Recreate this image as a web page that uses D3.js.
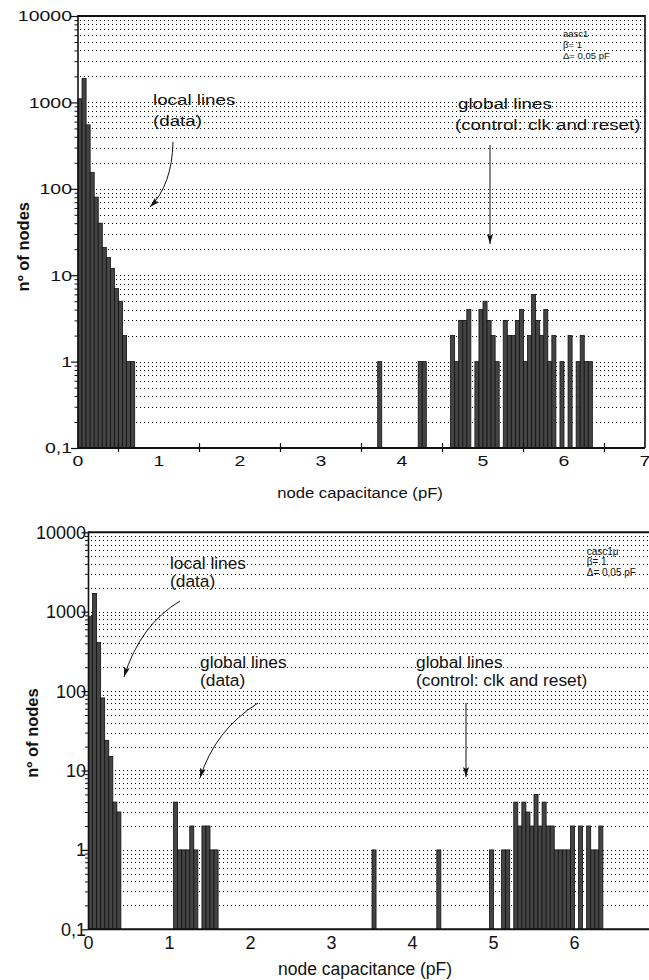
<!DOCTYPE html>
<html>
<head>
<meta charset="utf-8">
<script src="https://cdn.jsdelivr.net/npm/d3@7"></script>
<style>
  html, body { margin: 0; padding: 0; background: #fff; }
  svg { display: block; font-family: "Liberation Sans", Arial, sans-serif; }
  .grid { stroke: #000; stroke-width: 1; stroke-dasharray: 1 3; shape-rendering: crispEdges; }
  .bar { fill: #444; stroke: #111; stroke-width: 0.8; }
  .frame { stroke: #111; fill: none; }
</style>
</head>
<body>
<svg id="chart" width="649" height="980"></svg>
<script>
// histogram of node capacitance, bin width 0.05 pF
// top panel: aasc1
const aascBins = [
  0.00, 0.05, 0.10, 0.15, 0.20, 0.25, 0.30, 0.35, 0.40, 0.45, 0.50, 0.55, 0.60, 0.65,
  3.70, 4.20, 4.25,
  4.60, 4.65, 4.70, 4.75, 4.80, 4.90, 4.95, 5.00, 5.05, 5.10, 5.15,
  5.25, 5.30, 5.35, 5.40, 5.45, 5.50, 5.55, 5.60, 5.65, 5.70, 5.75, 5.80, 5.85,
  5.95, 6.05, 6.15, 6.20, 6.25, 6.30
];
const aascCounts = [
  1100, 1900, 550, 155, 80, 40, 21, 16, 12, 7, 5, 2, 1, 1,
  1, 1, 1,
  2, 1, 3, 3, 4, 1, 4, 5, 3, 2, 1,
  3, 2, 2, 3, 4, 1, 2, 6, 3, 2, 4, 1, 2,
  1, 2, 1, 2, 1, 1
];

// bottom panel: casc1
const cascBins = [
  0.00, 0.05, 0.10, 0.15, 0.20, 0.25, 0.30, 0.35,
  1.05, 1.10, 1.15, 1.20, 1.25, 1.30, 1.40, 1.45, 1.50, 1.55,
  3.50, 4.30, 4.95, 5.10, 5.15,
  5.25, 5.30, 5.35, 5.40, 5.45, 5.50, 5.55, 5.60, 5.65, 5.70, 5.75, 5.80, 5.85, 5.90, 5.95,
  6.05, 6.15, 6.20, 6.25, 6.30
];
const cascCounts = [
  865, 1700, 411, 82, 24, 15, 4, 3,
  4, 1, 1, 1, 2, 1, 2, 2, 1, 1,
  1, 1, 1, 1, 1,
  4, 2, 4, 3, 2, 5, 2, 4, 2, 2, 1, 1, 1, 1, 2,
  2, 2, 1, 1, 2
];

const BIN = 0.05;
const yMajor = [0.1, 1, 10, 100, 1000, 10000];
const xLabels = [0, 1, 2, 3, 4, 5, 6, 7];
const xHalfTicks = [0.5, 1.5, 2.5, 3.5, 4.5, 5.5, 6.5];

const W = 649;
const svg = d3.select('#chart');
const defs = svg.append('defs');
defs.append('marker')
  .attr('id', 'head')
  .attr('viewBox', '0 0 10 6')
  .attr('refX', 10).attr('refY', 3)
  .attr('markerWidth', 10).attr('markerHeight', 6)
  .attr('markerUnits', 'userSpaceOnUse')
  .attr('orient', 'auto')
  .append('path').attr('d', 'M0,0 L10,3 L0,6 L2,3 Z').attr('fill', '#111');

function fmt(v) {
  return v < 1 ? String(v).replace('.', ',') : String(v);
}

// text with horizontal stretch (the scanned figure is wider than tall)
function txt(g, x, y, s, o) {
  const t = g.append('text')
    .attr('transform', `translate(${x},${y}) scale(${o.sx || 1},1)`)
    .attr('text-anchor', o.anchor || 'start')
    .attr('font-size', o.size)
    .attr('fill', '#111')
    .text(s);
  if (o.weight) t.attr('font-weight', o.weight);
  return t;
}

function allLogTicks() {
  const v = [];
  for (let e = -1; e < 4; e++) {
    for (let m = 1; m <= 9; m++) v.push(m * Math.pow(10, e));
  }
  v.push(10000);
  return v.map(d => +d.toPrecision(3));
}

function drawPanel(p) {
  const g = svg.append('g');
  const x = d3.scaleLinear().domain([0, 7]).range(p.xr);
  const y = d3.scaleLog().domain([0.1, 10000]).range(p.yr);
  const right = Math.min(p.xr[1], W);

  // dotted grid at every decade sub-division
  g.selectAll('.grid')
    .data(allLogTicks().filter(d => d > 0.1))
    .join('line')
    .attr('class', 'grid')
    .attr('x1', x(0) + 2).attr('x2', right)
    .attr('y1', d => Math.round(y(d)) + 0.5).attr('y2', d => Math.round(y(d)) + 0.5);

  // bars
  g.selectAll('.bar')
    .data(p.bins.map((b, i) => ({ b, c: p.counts[i] })))
    .join('rect')
    .attr('class', 'bar')
    .attr('x', d => x(d.b))
    .attr('width', d => x(d.b + BIN) - x(d.b))
    .attr('y', d => y(d.c))
    .attr('height', d => y(0.1) - y(d.c));

  // y axis ticks
  const minors = allLogTicks().filter(d => !yMajor.includes(d));
  g.append('g').attr('transform', `translate(${x(0)},0)`)
    .call(d3.axisLeft(y).tickValues(minors).tickSize(3.5).tickFormat(''))
    .call(a => a.select('.domain').remove())
    .selectAll('line').attr('stroke', '#111');
  g.append('g').attr('transform', `translate(${x(0)},0)`)
    .call(d3.axisLeft(y).tickValues(yMajor).tickSize(7).tickFormat(''))
    .call(a => a.select('.domain').remove())
    .selectAll('line').attr('stroke', '#111').attr('stroke-width', 1.2);

  yMajor.forEach(v => {
    txt(g, x(0) - p.yLabDx, y(v) + p.yLabDy, fmt(v), { size: p.tickSize, sx: p.sx, anchor: 'end' });
  });

  // frame
  g.append('line').attr('class', 'frame').attr('stroke-width', 2)
    .attr('x1', x(0)).attr('x2', right).attr('y1', y(10000)).attr('y2', y(10000));
  g.append('line').attr('class', 'frame').attr('stroke-width', 1.6)
    .attr('x1', x(0)).attr('x2', x(0)).attr('y1', y(10000) - 1).attr('y2', y(0.1));
  g.append('line').attr('class', 'frame').attr('stroke-width', 2)
    .attr('x1', x(0)).attr('x2', right).attr('y1', y(0.1)).attr('y2', y(0.1));
  if (p.rightBorder) {
    g.append('line').attr('class', 'frame').attr('stroke-width', 1.6)
      .attr('x1', x(7)).attr('x2', x(7)).attr('y1', y(10000) - 1).attr('y2', y(0.1));
  }

  if (p.halfTicks) {
    g.selectAll('.xt')
      .data(xHalfTicks)
      .join('line')
      .attr('stroke', '#111').attr('stroke-width', 1.2)
      .attr('x1', d => x(d)).attr('x2', d => x(d))
      .attr('y1', y(0.1) - 5).attr('y2', y(0.1) + 4);
  }

  // labels that fall past the page edge are not in the original
  xLabels.filter(v => x(v) < W).forEach(v => {
    txt(g, x(v), p.xLabY, String(v), { size: p.tickSize, sx: p.sx, anchor: 'middle' });
  });

  txt(g, p.xTitle[0], p.xTitle[1], 'node capacitance (pF)', { size: p.titleSize, sx: p.titleSx, anchor: 'middle' });
  g.append('text')
    .attr('transform', `translate(${p.yTitle[0]},${p.yTitle[1]}) rotate(-90)`)
    .attr('text-anchor', 'middle')
    .attr('font-size', 16.5)
    .attr('font-weight', 'bold')
    .attr('fill', '#111')
    .text('nº of nodes');

  // annotations
  p.notes.forEach(n => {
    txt(g, n[0], n[1], n[2], { size: p.noteSize, sx: p.noteSx });
  });
  p.info.forEach(n => {
    txt(g, n[0], n[1], n[2], { size: p.infoSize, sx: 1 });
  });
  p.arrows.forEach(a => {
    g.append('path')
      .attr('d', a)
      .attr('fill', 'none')
      .attr('stroke', '#111')
      .attr('stroke-width', 1)
      .attr('marker-end', 'url(#head)');
  });
}

drawPanel({
  bins: aascBins, counts: aascCounts,
  xr: [78, 645], yr: [448, 16],
  rightBorder: true, halfTicks: true,
  tickSize: 15, sx: 1.3, yLabDx: 6, yLabDy: 5.3,
  xLabY: 465.5,
  xTitle: [360, 498], titleSize: 14.5, titleSx: 1.15,
  yTitle: [28.5, 246.7],
  noteSize: 15, noteSx: 1.25,
  notes: [
    [153, 105, 'local lines'], [153, 126, '(data)'],
    [458, 109, 'global lines'], [455, 130, '(control: clk and reset)']
  ],
  infoSize: 9.5,
  info: [[563, 36.5, 'aasc1'], [563, 47.5, 'β= 1'], [563, 58.5, 'Δ= 0,05 pF']],
  arrows: ['M173,142 Q172,185 150,207', 'M490,145 L490,244']
});

drawPanel({
  bins: cascBins, counts: cascCounts,
  xr: [88.5, 655.5], yr: [929.3, 532.3],
  rightBorder: false, halfTicks: false,
  tickSize: 18, sx: 1.0, yLabDx: 2.5, yLabDy: 6.5,
  xLabY: 949.3,
  xTitle: [365, 975], titleSize: 17.5, titleSx: 1.0,
  yTitle: [38.3, 733],
  noteSize: 16.5, noteSx: 1.05,
  notes: [
    [170, 569, 'local lines'], [170, 587, '(data)'],
    [200, 668, 'global lines'], [200, 686, '(data)'],
    [416, 668, 'global lines'], [416, 686, '(control: clk and reset)']
  ],
  infoSize: 10,
  info: [[586.7, 554.5, 'casc1μ'], [586.7, 564.5, 'β= 1'], [586.7, 575.5, 'Δ= 0,05 pF']],
  arrows: ['M180,601 Q140,625 124,677', 'M258,703 Q215,730 200,778', 'M466,703 L466,777']
});
</script>
</body>
</html>
